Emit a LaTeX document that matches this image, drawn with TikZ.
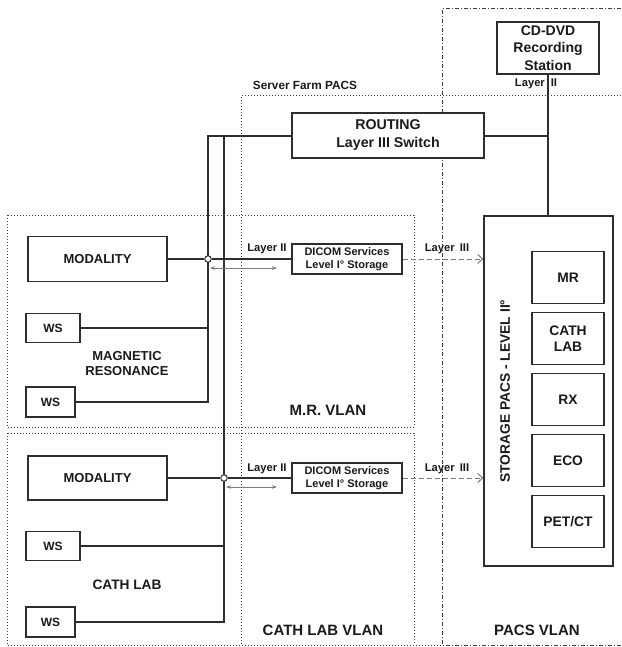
\documentclass[tikz,border=0pt]{standalone}
\usepackage{fontspec}
\setmainfont{Liberation Sans}
\usetikzlibrary{arrows.meta}
\definecolor{ink}{HTML}{1A1A1A}
\definecolor{edgec}{HTML}{2E2E2E}
\definecolor{dotc}{HTML}{3A3A3A}
\definecolor{arrc}{HTML}{7A7A7A}
\tikzset{
  box/.style={draw=edgec, line width=1.2pt, fill=white, inner sep=0pt, align=center, text=ink},
  wire/.style={draw=edgec, line width=1.2pt},
  vlan/.style={draw=dotc, line width=1pt, dash pattern=on 1pt off 2pt},
  pacsline/.style={draw=dotc, line width=1pt, dash pattern=on 4pt off 2pt on 1pt off 2pt},
  lbl/.style={text=ink, inner sep=0pt},
  junction/.style={circle, draw=edgec, fill=white, line width=1pt, minimum size=6.5pt, inner sep=0pt},
  dblarrow/.style={draw=arrc, line width=0.8pt, {Stealth[length=5pt,width=3.5pt]}-{Stealth[length=5pt,width=3.5pt]}},
  l3arrow/.style={draw=arrc, line width=1pt, dash pattern=on 5pt off 3pt, -{Straight Barb[length=5pt,width=9pt]}},
  fA/.style={font=\bfseries\fontsize{13}{15}\selectfont},
  fWS/.style={font=\bfseries\fontsize{12}{14}\selectfont},
  fBig/.style={font=\bfseries\fontsize{15}{17}\selectfont},
  fDic/.style={font=\bfseries\fontsize{11}{12.7}\selectfont},
  fLay/.style={font=\bfseries\fontsize{11.2}{13}\selectfont},
  fTop/.style={font=\bfseries\fontsize{14}{17.3}\selectfont},
  fRout/.style={font=\bfseries\fontsize{14.2}{18}\selectfont},
  fIn/.style={font=\bfseries\fontsize{13.8}{16}\selectfont},
}
\begin{document}
\begin{tikzpicture}[x=1pt,y=-1pt]
\useasboundingbox (0,0) rectangle (621,647);
% zones
\draw[vlan] (7,215) rectangle (414,427);
\draw[vlan] (7,433) rectangle (414,645);
\draw[vlan] (621,96) -- (241,96) -- (241,645) -- (442,645);
\draw[pacsline] (621,9) -- (442,9) -- (442,645) -- (621,645);
% coordinates for wire bends
\coordinate (tA) at (208,136);
\coordinate (tB) at (224,136);
\coordinate (bA) at (208,402);
\coordinate (bB) at (224,622);
\coordinate (wA) at (208,328);
\coordinate (wB) at (224,546);
\coordinate (rt) at (548,136);
% nodes
\node[box, fRout, minimum width=192pt, minimum height=45pt] (routing) at (388,135.5) {ROUTING\\Layer III Switch};
\node[box, fTop, minimum width=102pt, minimum height=52pt] (cd) at (548,48) {CD-DVD\\Recording\\Station};
\node[box, minimum width=129pt, minimum height=350pt] (storage) at (548.5,391) {};
\node[lbl, fIn, rotate=90] (stlabel) at (505,391) {STORAGE PACS - LEVEL II\textdegree};
\node[box, fIn, minimum width=72pt, minimum height=52pt] (mr) at (568,277.5) {MR};
\node[box, fIn, minimum width=72pt, minimum height=52pt] (cathlab) at (568,338.5) {CATH\\LAB};
\node[box, fIn, minimum width=72pt, minimum height=52pt] (rx) at (568,399.5) {RX};
\node[box, fIn, minimum width=72pt, minimum height=52pt] (eco) at (568,460.5) {ECO};
\node[box, fIn, minimum width=72pt, minimum height=52pt] (petct) at (568,521.5) {PET/CT};
% MR VLAN
\node[box, fA, minimum width=139pt, minimum height=45pt] (mrmod) at (97.5,259) {MODALITY};
\node[box, fWS, minimum width=54pt, minimum height=29pt] (mrws1) at (53,328) {WS};
\node[box, fWS, minimum width=49pt, minimum height=30pt] (mrws2) at (50.5,402) {WS};
\node[box, fDic, minimum width=110pt, minimum height=30pt] (mrdicom) at (347,259) {DICOM Services\\Level I\textdegree\ Storage};
% CATH LAB VLAN
\node[box, fA, minimum width=139pt, minimum height=44pt] (cmod) at (97.5,478) {MODALITY};
\node[box, fWS, minimum width=54pt, minimum height=29pt] (cws1) at (53,546) {WS};
\node[box, fWS, minimum width=49pt, minimum height=30pt] (cws2) at (50.5,622) {WS};
\node[box, fDic, minimum width=110pt, minimum height=30pt] (cdicom) at (347,478) {DICOM Services\\Level I\textdegree\ Storage};
% wires
\draw[wire] (routing.west |- tA) -- (tA) -- (bA) -- (mrws2.east |- bA);
\draw[wire] (tB) -- (bB) -- (cws2.east |- bB);
\draw[wire] (mrws1.east |- wA) -- (wA);
\draw[wire] (cws1.east |- wB) -- (wB);
\draw[wire] (routing.east |- rt) -- (rt);
\draw[wire] (cd.south) -- (storage.north -| cd.south);
\node[junction] (mrj) at (208,259) {};
\node[junction] (cj) at (224,478) {};
\draw[wire] (mrmod.east) -- (mrj);
\draw[wire] (mrj) -- (mrdicom.west);
\draw[wire] (cmod.east) -- (cj);
\draw[wire] (cj) -- (cdicom.west);
% arrows
\coordinate (da1) at (210,268);
\coordinate (da2) at (277,268);
\coordinate (db1) at (226,487);
\coordinate (db2) at (277,487);
\draw[dblarrow] (da1) -- (da2);
\draw[dblarrow] (db1) -- (db2);
\draw[l3arrow] (mrdicom.east) -- (storage.west |- mrdicom.east);
\draw[l3arrow] (cdicom.east) -- (storage.west |- cdicom.east);
% labels
\node[lbl, fLay] (l2a) at (267,249) {Layer II};
\node[lbl, fLay] (l2b) at (267,469) {Layer II};
\node[lbl, fLay] (l3a) at (447,249) {Layer\hspace{5pt}III};
\node[lbl, fLay] (l3b) at (447,469) {Layer\hspace{5pt}III};
\node[lbl, fLay] (l2c) at (536,84) {Layer\hspace{6pt}II};
\node[lbl, fLay, font=\bfseries\fontsize{11.8}{14}\selectfont] (sf) at (305,85) {Server Farm PACS};
\node[lbl, fA, align=center] (magres) at (127,363.5) {MAGNETIC\\RESONANCE};
\node[lbl, fA, font=\bfseries\fontsize{13.7}{16}\selectfont] (cathtxt) at (127,585) {CATH LAB};
\node[lbl, fBig] (mrvlan) at (328,410) {M.R. VLAN};
\node[lbl, fBig] (cathvlan) at (323,630) {CATH LAB VLAN};
\node[lbl, fBig] (pacsvlan) at (537,630) {PACS VLAN};
\end{tikzpicture}
\end{document}
